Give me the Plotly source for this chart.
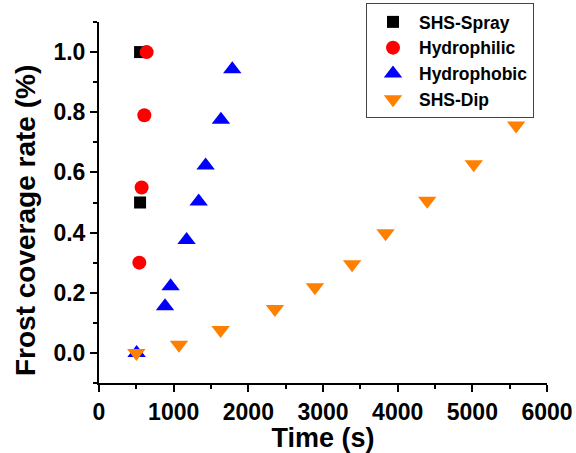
import plotly.graph_objects as go

spray_x = [550, 550]
spray_y = [1.0, 0.5]

philic_x = [638, 607, 571, 540]
philic_y = [1.0, 0.79, 0.55, 0.30]

phobic_x = [504, 884, 959, 1173, 1335, 1428, 1633, 1785]
phobic_y = [0.0, 0.155, 0.222, 0.375, 0.503, 0.623, 0.775, 0.943]

dip_x = [500, 1071, 1629, 2356, 2892, 3390, 3838, 4396, 5019, 5587]
dip_y = [0.0, 0.027, 0.076, 0.146, 0.218, 0.295, 0.398, 0.506, 0.627, 0.756]

x_ticks = [0, 1000, 2000, 3000, 4000, 5000, 6000]
x_labels = ["0", "1000", "2000", "3000", "4000", "5000", "6000"]
y_ticks = [0.0, 0.2, 0.4, 0.6, 0.8, 1.0]
y_labels = ["0.0", "0.2", "0.4", "0.6", "0.8", "1.0"]

x_title = "Time (s)"
y_title = "Frost coverage rate (%)"

FONT = "Liberation Sans"

fig = go.Figure()
fig.add_trace(go.Scatter(x=spray_x, y=spray_y, mode="markers", name="SHS-Spray",
                         marker=dict(symbol="square", size=12, color="black")))
fig.add_trace(go.Scatter(x=philic_x, y=philic_y, mode="markers", name="Hydrophilic",
                         marker=dict(symbol="circle", size=14, color="#ff0000")))
fig.add_trace(go.Scatter(x=phobic_x, y=phobic_y, mode="markers", name="Hydrophobic",
                         marker=dict(symbol="triangle-up", size=16, color="#0000ff")))
fig.add_trace(go.Scatter(x=dip_x, y=dip_y, mode="markers", name="SHS-Dip",
                         marker=dict(symbol="triangle-down", size=16, color="#ff8000")))

axis_common = dict(showline=True, linecolor="black", linewidth=2, mirror=False,
                   ticks="outside", tickwidth=2, ticklen=7, tickcolor="black",
                   showgrid=False, zeroline=False,
                   tickfont=dict(size=23, color="black", family=FONT, weight=700))

fig.update_layout(
    width=576, height=453,
    margin=dict(l=99, r=29, t=22, b=70, autoexpand=False),
    plot_bgcolor="white", paper_bgcolor="white",
    font=dict(family=FONT, color="black", weight=700),
    xaxis=dict(range=[0, 6000], tickmode="array", tickvals=x_ticks,
               ticktext=["<b>" + t + "</b>" for t in x_labels],
               minor=dict(dtick=500, tick0=0, ticks="outside", ticklen=4, tickwidth=2, tickcolor="black"),
               title=dict(text=x_title, font=dict(size=27, family=FONT, weight=700), standoff=0),
               **axis_common),
    yaxis=dict(range=[-0.1, 1.1], tickmode="array", tickvals=y_ticks,
               ticktext=["<b>" + t + "</b>" for t in y_labels],
               minor=dict(dtick=0.1, tick0=0, ticks="outside", ticklen=4, tickwidth=2, tickcolor="black"),
               **axis_common),
    legend=dict(xref="container", yref="container", x=366/576, y=1 - 3/453,
                xanchor="left", yanchor="top",
                bordercolor="#444444", borderwidth=1, bgcolor="white",
                font=dict(size=17.5, family=FONT, weight=700), itemwidth=42,
                tracegroupgap=0),
    showlegend=True,
    annotations=[dict(text="<b>" + y_title + "</b>", textangle=-90, showarrow=False,
                      xref="paper", yref="paper", x=(25 - 99) / 448, y=(383 - 221) / 361,
                      xanchor="center", yanchor="middle",
                      font=dict(size=28, family=FONT, color="black", weight=700))],
)

fig.write_html("out.html")
